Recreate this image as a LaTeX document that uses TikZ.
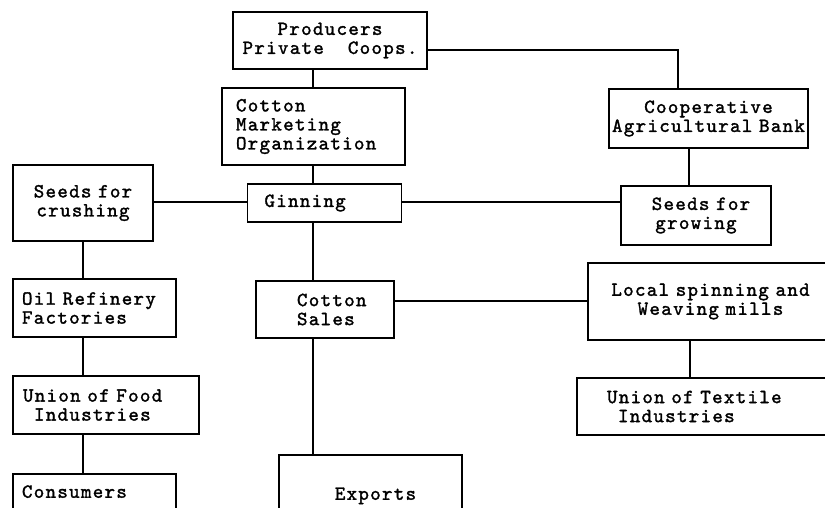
\documentclass[tikz,border=0pt]{standalone}
\usepackage{fontspec}
\newfontfamily\courfont{lmmono10-regular.otf}[FakeBold=1.6, LetterSpace=6.5]
\newcommand\courset{\courfont\fontsize{20}{19}\selectfont\spaceskip 12pt\relax}
\begin{document}
\begin{tikzpicture}[x=1pt,y=-1pt,
  box/.style={draw, line width=1.5pt, inner ysep=0pt, font=\courset},
  conn/.style={line width=1.3pt}]
\useasboundingbox (0,0) rectangle (825,508);
\clip (0,0) rectangle (825,508);
\fill[white] (0,0) rectangle (825,508);
% nodes
\node[box, minimum width=194pt, minimum height=57pt, align=center] (prod) at (330,40.5) {Producers\\Private\ \ Coops.};
\node[box, minimum height=77pt, text width=155pt, inner xsep=14pt, align=left] (cmo) at (313.5,126.5) {Cotton\\Marketing\\Organization};
\node[box, minimum height=38pt, text width=120pt, inner xsep=17pt, align=left] (gin) at (324.5,203) {Ginning};
\node[box, minimum height=76pt, text width=124pt, inner xsep=8pt, align=center] (crush) at (83,203) {Seeds for\\crushing};
\node[box, minimum height=59pt, text width=197pt, inner xsep=1pt, align=center] (bank) at (708.5,118.5) {Cooperative\\Agricultural Bank};
\node[box, minimum height=59pt, text width=134pt, inner xsep=8pt, align=center] (grow) at (696,215.5) {\hspace*{10pt}Seeds for\\growing};
\node[box, minimum height=57pt, text width=110pt, inner xsep=14pt, align=left] (sales) at (325,309.5) {\hspace*{27pt}Cotton\\\hspace*{27pt}Sales};
\node[box, minimum height=58pt, text width=149pt, inner xsep=7pt, align=left] (oil) at (94.5,308) {\hspace*{2pt}Oil Refinery\\\hspace*{2pt}Factories};
\node[box, minimum height=58pt, text width=170pt, inner xsep=8pt, align=left] (food) at (106,405) {\hspace*{2pt}Union of Food\\\hspace*{13pt}Industries};
\node[box, anchor=north, minimum height=70pt, text width=145pt, inner xsep=9pt, align=left, text height=14pt, text depth=50pt] (cons) at (94.5,473) {\raisebox{-7pt}{Consumers}};
\node[box, anchor=north, minimum height=100pt, text width=163pt, inner xsep=10pt, align=center, text height=45pt, text depth=60pt] (exp) at (370.5,454) {\hspace*{10pt}Exports};
\node[box, minimum height=77pt, text width=225pt, inner xsep=10pt, align=center] (local) at (710.5,301.5) {Local spinning and\\Weaving mills};
\node[box, minimum height=57pt, text width=230pt, inner xsep=30pt, align=left] (tex) at (722,406.5) {Union of Textile\\\hspace*{11pt}Industries};
% connectors
\coordinate (spine) at (313,0);
\draw[conn] (spine |- prod.south) -- (spine |- cmo.north);
\draw[conn] (spine |- cmo.south) -- (spine |- gin.north);
\draw[conn] (spine |- gin.south) -- (spine |- sales.north);
\draw[conn] (spine |- sales.south) -- (spine |- exp.north);
\draw[conn] ([yshift=-9.5pt]prod.east) -| ([xshift=-30.5pt]bank.north);
\draw[conn] ([xshift=-19.5pt]bank.south) -- ([xshift=-19.5pt]bank.south |- grow.north);
\draw[conn] ([yshift=1pt]gin.east) -- ([yshift=1pt]gin.east -| grow.west);
\draw[conn] ([yshift=1pt]gin.west) -- ([yshift=1pt]gin.west -| crush.east);
\draw[conn] (crush.south) -- (crush.south |- oil.north);
\draw[conn] (crush.south |- oil.south) -- (crush.south |- food.north);
\draw[conn] (crush.south |- food.south) -- (crush.south |- cons.north);
\draw[conn] ([yshift=8.5pt]sales.east) -- ([yshift=8.5pt]sales.east -| local.west);
\draw[conn] ([xshift=-20.5pt]local.south) -- ([xshift=-20.5pt]local.south |- tex.north);
\end{tikzpicture}
\end{document}
